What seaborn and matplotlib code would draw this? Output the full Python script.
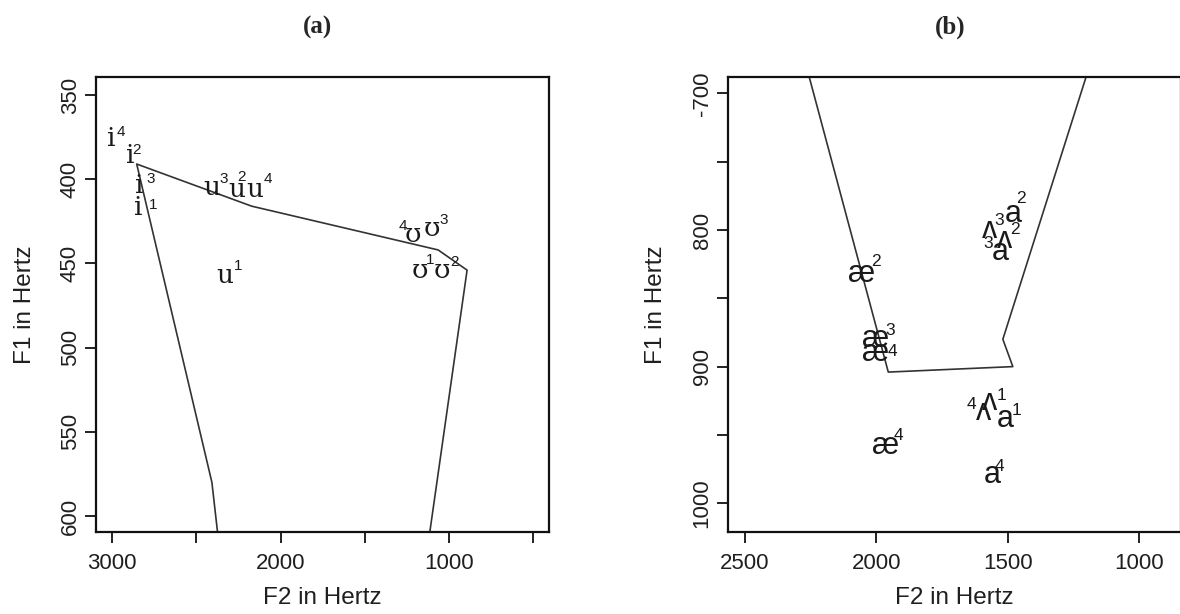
import pandas as pd
import matplotlib
matplotlib.use("Agg")
import matplotlib.pyplot as plt
import seaborn as sns

# (a) high vowels: F2 / F1 in Hertz, symbol and speaker number
a_f2 = [3004, 2895, 2840, 2845, 2409, 2261, 2152, 2330, 1211, 1102, 1172, 1043]
a_f1 = [376, 386, 404, 417, 405, 406, 406, 457, 433, 429, 454, 454]
a_sym = ["i", "i", "i", "i", "u", "u", "u", "u", "ʊ", "ʊ", "ʊ", "ʊ"]
a_num = ["4", "2", "3", "1", "3", "2", "4", "1", "4", "3", "1", "2"]

# (a) boundary line
a_poly_f2 = [2340, 2408, 2855, 2172, 1063, 891, 1156]
a_poly_f1 = [640, 580, 391, 416, 442, 454, 640]

# (b) low vowels
b_f2 = [1568, 1479, 1511, 1530, 2056, 2005, 2005, 1568, 1593, 1511, 1967, 1561]
b_f1 = [800, 788, 807, 816, 832, 880, 890, 926, 933, 938, 958, 979]
b_sym = ["ʌ", "a", "ʌ", "a", "æ", "æ", "æ", "ʌ", "ʌ", "a", "æ", "a"]
b_num = ["3", "2", "2", "3", "2", "3", "4", "1", "4", "1", "4", "4"]

# (b) boundary line
b_poly_f2 = [2295, 1955, 1481, 1519, 1156]
b_poly_f1 = [660, 904, 900, 880, 660]

# axis ticks
a_xticks = [3000, 2500, 2000, 1500, 1000, 500]
a_xticklabels = ["3000", "", "2000", "", "1000", ""]
a_yticks = [350, 400, 450, 500, 550, 600]
a_yticklabels = ["350", "400", "450", "500", "550", "600"]
b_xticks = [2500, 2000, 1500, 1000]
b_xticklabels = ["2500", "2000", "1500", "1000"]
b_yticks = [700, 750, 800, 850, 900, 950, 1000]
b_yticklabels = ["-700", "", "800", "", "900", "", "1000"]

# superscript offsets (pixels, right/up) - style only
a_off = [(9, 7), (7, 6), (11, 7), (15, 3), (12, 9), (5, 12), (13, 10), (13, 9),
         (-10, 9), (12, 8), (10, 10), (13, 8)]
b_off = [(9, 9), (8, 15), (10, 10), (-12, 8), (14, 12), (15, 9), (17, 1),
         (12, 7), (-12, 7), (12, 8), (13, 10), (8, 8)]

sns.set_theme(style="ticks")
plt.rcParams["font.family"] = ["Liberation Sans", "DejaVu Sans"]

fig = plt.figure(figsize=(11.8, 6.14), dpi=100)
W, H = 1180, 614
ax_a = fig.add_axes([96 / W, (H - 531.7) / H, 453 / W, 454.4 / H])
ax_b = fig.add_axes([728 / W, (H - 531.7) / H, 453 / W, 454.4 / H])


def draw_panel(ax, pf2, pf1, f2, f1, sym, num, off, base_font, base_size, sup_size):
    poly = pd.DataFrame({"F2": pf2, "F1": pf1})
    sns.lineplot(data=poly, x="F2", y="F1", sort=False, estimator=None,
                 color="#333333", linewidth=1.2, ax=ax)
    for x, y, s, n, (dx, dy) in zip(f2, f1, sym, num, off):
        ax.text(x, y, s, ha="center", va="center", fontsize=base_size,
                family=base_font, color="#1a1a1a")
        ax.annotate(n, (x, y), xytext=(dx, dy), textcoords="offset pixels",
                    ha="center", va="center", fontsize=sup_size,
                    family=["Liberation Sans", "DejaVu Sans"], color="#1a1a1a")


draw_panel(ax_a, a_poly_f2, a_poly_f1, a_f2, a_f1, a_sym, a_num, a_off,
           ["DejaVu Serif"], 19, 11)
draw_panel(ax_b, b_poly_f2, b_poly_f1, b_f2, b_f1, b_sym, b_num, b_off,
           ["Liberation Sans", "DejaVu Sans"], 22, 12.5)

ax_a.set_xlim(3097, 404)
ax_a.set_ylim(609.3, 339.5)
ax_b.set_xlim(2565, 841)
ax_b.set_ylim(1020.8, 688.3)

for ax, xt, xtl, yt, ytl in [(ax_a, a_xticks, a_xticklabels, a_yticks, a_yticklabels),
                             (ax_b, b_xticks, b_xticklabels, b_yticks, b_yticklabels)]:
    ax.set_xticks(xt)
    ax.set_xticklabels(xtl)
    ax.set_yticks(yt)
    ax.set_yticklabels(ytl, rotation=90, va="center")
    ax.tick_params(axis="both", length=8, width=1.4, color="#222222",
                   labelsize=16, labelcolor="#1f1f1f")
    ax.tick_params(axis="x", pad=7)
    ax.tick_params(axis="y", pad=3)
    for sp in ax.spines.values():
        sp.set_visible(True)
        sp.set_linewidth(1.6)
        sp.set_color("#111111")
    ax.set_xlabel("F2 in Hertz", fontsize=17.5, color="#1f1f1f")
    ax.set_ylabel("F1 in Hertz", fontsize=17.5, color="#1f1f1f")
    ax.xaxis.set_label_coords(0.5, -0.122)
    ax.set_facecolor("white")

ax_a.yaxis.set_label_coords(-0.133, 0.5)
ax_b.yaxis.set_label_coords(-0.134, 0.5)

fig.text(317 / W, 1 - 27 / H, "(a)", ha="center", va="center", fontsize=18,
         fontweight="bold", family=["Liberation Serif", "DejaVu Serif"])
fig.text(950 / W, 1 - 27 / H, "(b)", ha="center", va="center", fontsize=18,
         fontweight="bold", family=["Liberation Serif", "DejaVu Serif"])

fig.savefig("out.png", dpi=100, facecolor="white")
